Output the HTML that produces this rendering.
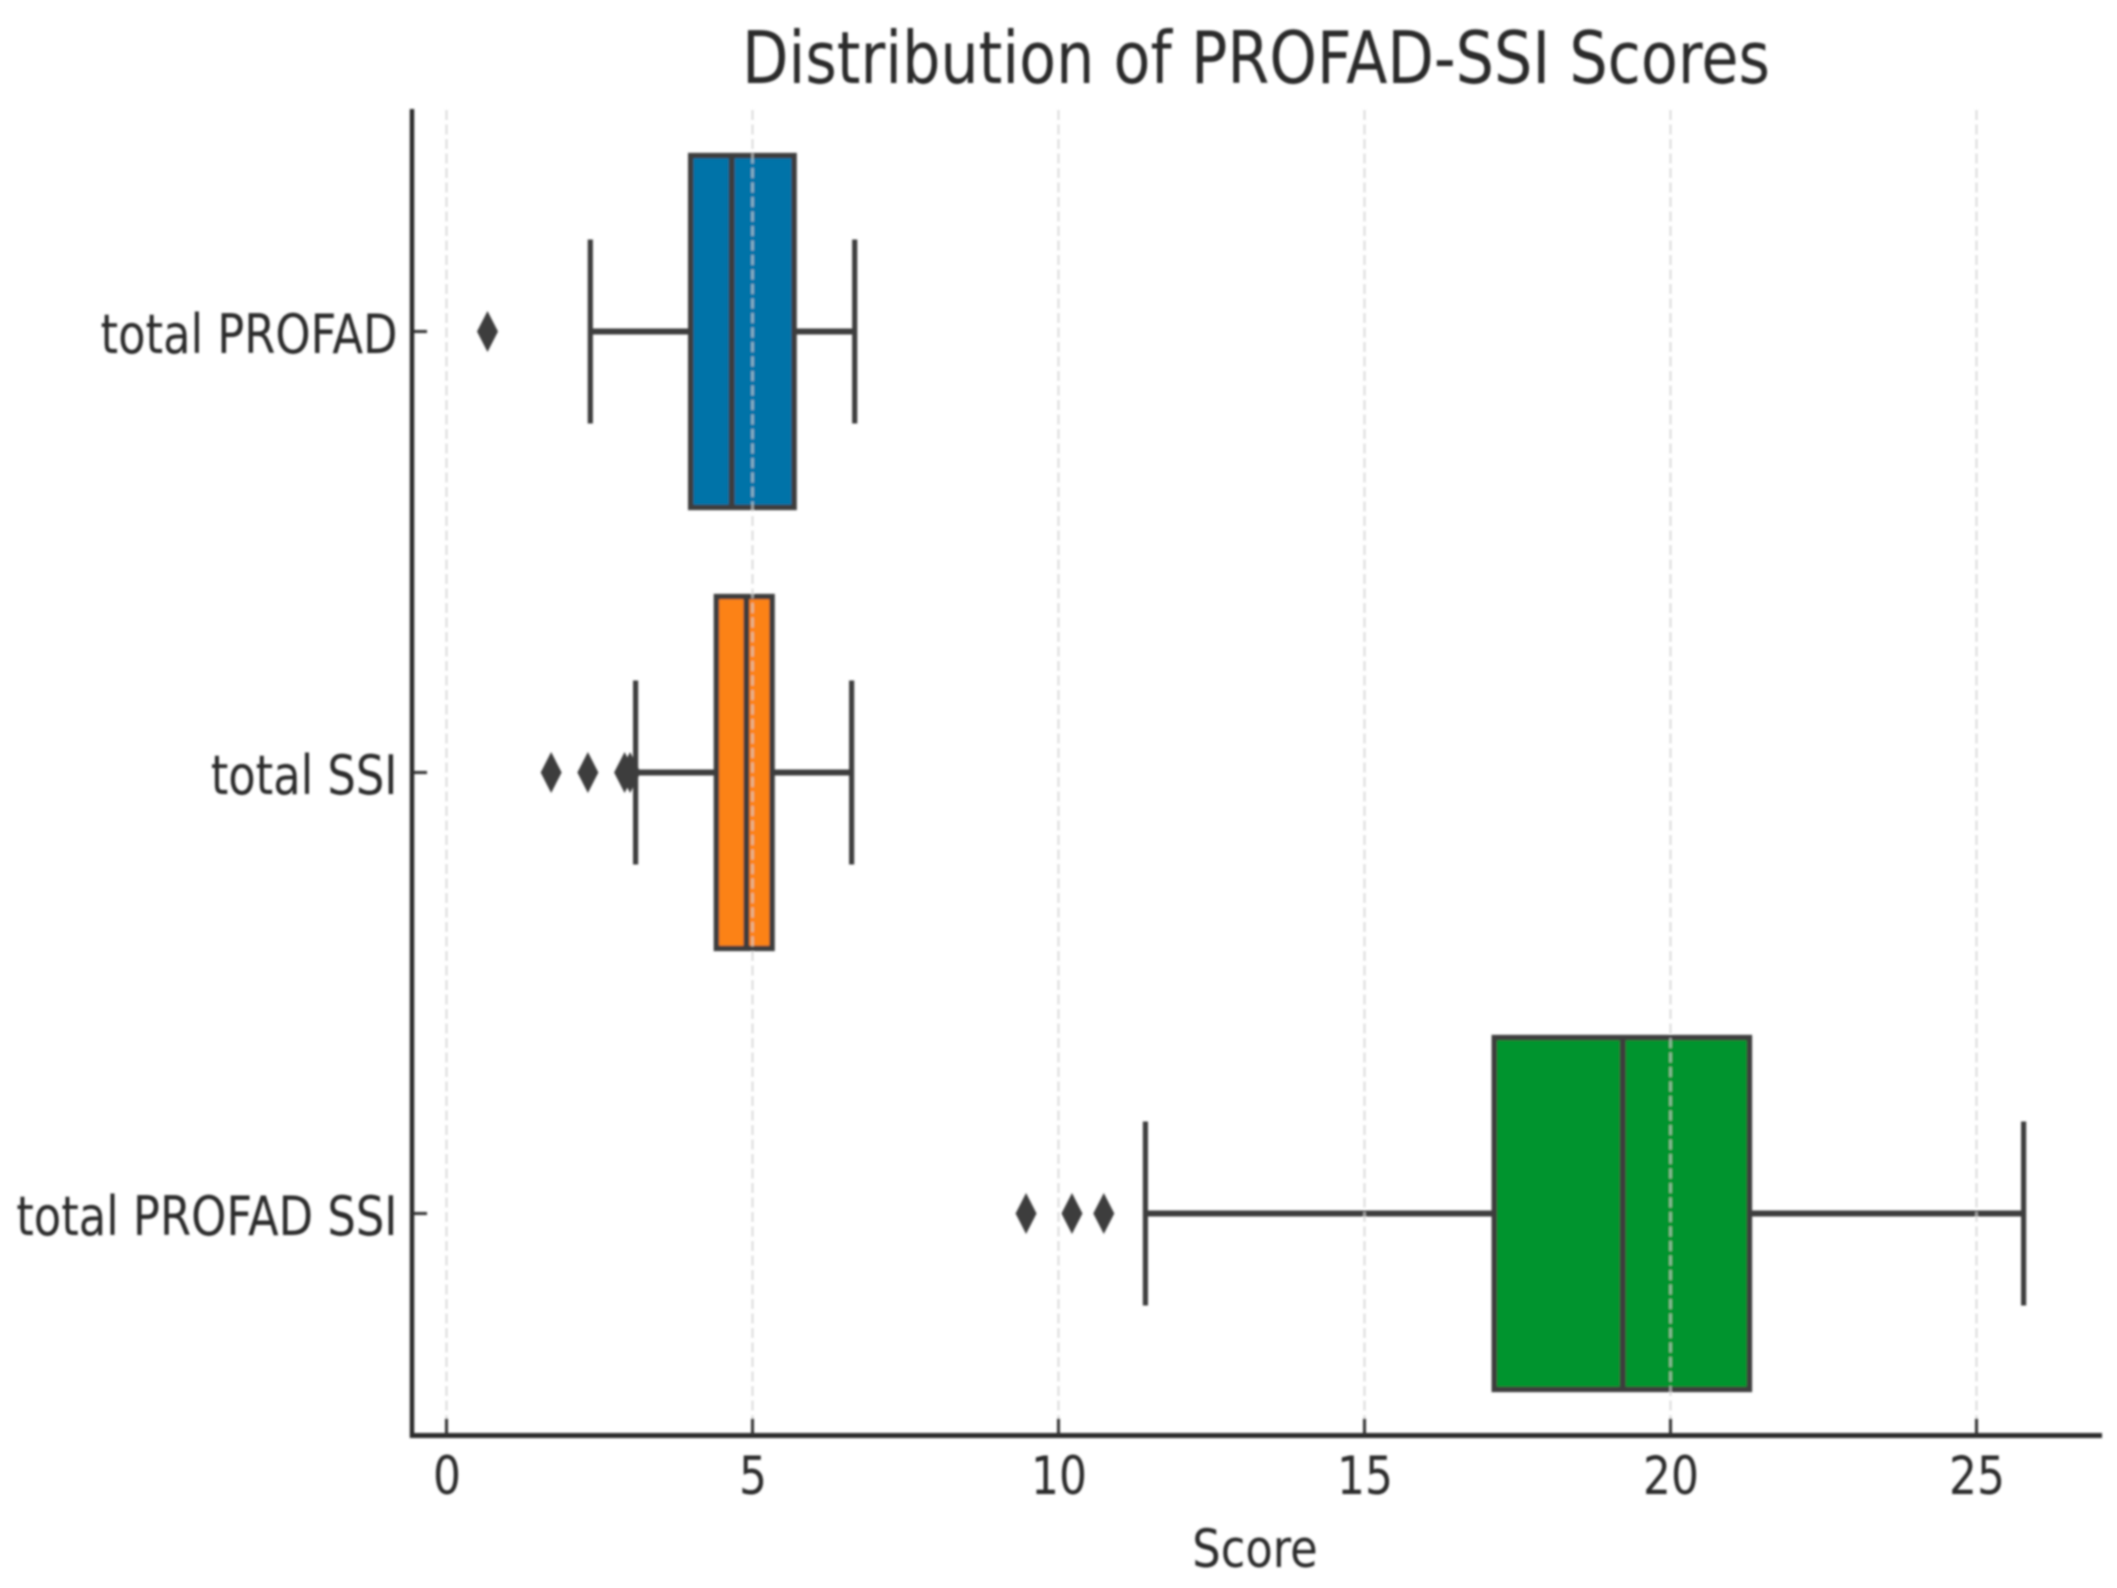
<!DOCTYPE html>
<html lang="en">
<head>
<meta charset="utf-8">
<title>Distribution of PROFAD-SSI Scores</title>
<style>
html,body{margin:0;padding:0;background:#fff;width:2117px;height:1588px;overflow:hidden}
svg{display:block}
text{font-family:"DejaVu Sans","Liberation Sans",sans-serif;fill:#2b2b2b}
</style>
</head>
<body>
<svg id="chart" width="2117" height="1588" viewBox="0 0 2117 1588" xmlns="http://www.w3.org/2000/svg">
  <defs>
    <filter id="soft" x="-2%" y="-2%" width="104%" height="104%"><feGaussianBlur stdDeviation="1"/></filter>
  </defs>
  <g id="root" filter="url(#soft)"></g>
</svg>
<script>
const categories = ['total PROFAD', 'total SSI', 'total PROFAD SSI'];
const boxColors = ['#0173a8', '#fc8217', '#02942f'];
const whiskerLow = [2.35, 3.09, 11.42];
const q1 = [3.99, 4.41, 17.12];
const medians = [4.66, 4.90, 19.22];
const q3 = [5.68, 5.32, 21.29];
const whiskerHigh = [6.67, 6.62, 25.77];
const outliers = [[0.67], [1.71, 2.31, 2.91, 3.00], [9.47, 10.22, 10.74]];
const xTicks = [0, 5, 10, 15, 20, 25];
const titleText = 'Distribution of PROFAD-SSI Scores';
const xAxisLabel = 'Score';

const NS = 'http://www.w3.org/2000/svg';
const root = document.getElementById('root');
const plot = {left: 412, right: 2102, top: 110, bottom: 1435.5, x0: 446.5, unit: 61.2, catTop: 111, band: 441};
const ink = '#3d3d3d';

function xScale(v) { return plot.x0 + v * plot.unit; }
function yScale(i) { return plot.catTop + plot.band * (i + 0.5); }

function make(tag, attrs, parent) {
  const el = document.createElementNS(NS, tag);
  for (const k in attrs) el.setAttribute(k, attrs[k]);
  (parent || root).appendChild(el);
  return el;
}
function label(str, x, y, size, anchor, sx) {
  const el = make('text', {
    transform: 'translate(' + x + ',' + y + ') scale(' + sx + ',1)',
    'font-size': size,
    'text-anchor': anchor
  });
  el.textContent = str;
  return el;
}

/* boxes */
categories.forEach(function (cat, i) {
  const y = yScale(i);
  const h = plot.band * 0.798;
  const capH = plot.band * 0.417;
  const g = make('g', {});
  
  

  const wl = make('line', {x1: xScale(whiskerLow[i]), x2: xScale(q1[i]), y1: y, y2: y, stroke: ink, 'stroke-width': 6}, g);
  
  

  const wh = make('line', {x1: xScale(q3[i]), x2: xScale(whiskerHigh[i]), y1: y, y2: y, stroke: ink, 'stroke-width': 6}, g);
  
  

  const cl = make('line', {x1: xScale(whiskerLow[i]), x2: xScale(whiskerLow[i]), y1: y - capH / 2, y2: y + capH / 2, stroke: ink, 'stroke-width': 5.2}, g);
  
  

  const ch = make('line', {x1: xScale(whiskerHigh[i]), x2: xScale(whiskerHigh[i]), y1: y - capH / 2, y2: y + capH / 2, stroke: ink, 'stroke-width': 5.2}, g);
  
  

  const r = make('rect', {x: xScale(q1[i]), y: y - h / 2, width: xScale(q3[i]) - xScale(q1[i]), height: h, fill: boxColors[i], stroke: ink, 'stroke-width': 5.4}, g);
  
  

  const m = make('line', {x1: xScale(medians[i]), x2: xScale(medians[i]), y1: y - h / 2, y2: y + h / 2, stroke: ink, 'stroke-width': 5.8}, g);
  
  

  outliers[i].forEach(function (v) {
    const px = xScale(v);
    const d = make('polygon', {points: (px - 10.5) + ',' + y + ' ' + px + ',' + (y - 20.5) + ' ' + (px + 10.5) + ',' + y + ' ' + px + ',' + (y + 20.5), fill: ink}, g);
    
    
  });
});

/* gridlines (drawn over the boxes, as in the reference) */
xTicks.forEach(function (t) {
  const gl = make('line', {x1: xScale(t), x2: xScale(t), y1: plot.top, y2: plot.bottom - 15, stroke: '#d2d2d2', 'stroke-opacity': 0.7, 'stroke-width': 2.4, 'stroke-dasharray': '10 4.5'});
  
  
});

/* spines */
const spineLeft = make('line', {x1: plot.left, x2: plot.left, y1: plot.top - 1, y2: plot.bottom + 2.5, stroke: '#2b2b2b', 'stroke-width': 4.5});



const spineBottom = make('line', {x1: plot.left - 2, x2: plot.right, y1: plot.bottom, y2: plot.bottom, stroke: '#2b2b2b', 'stroke-width': 5});



/* x ticks */
xTicks.forEach(function (t) {
  const tk = make('line', {x1: xScale(t), x2: xScale(t), y1: plot.bottom - 17, y2: plot.bottom, stroke: '#333', 'stroke-width': 3});
  
  
  const tl = label(String(t), xScale(t) + 0.5, 1494, 53, 'middle', 0.83);
  
  
});

/* y ticks */
categories.forEach(function (cat, i) {
  const tk = make('line', {x1: plot.left, x2: plot.left + 15, y1: yScale(i), y2: yScale(i), stroke: '#333', 'stroke-width': 3});
  
  
  const tl = label(cat, 397.5, yScale(i) + 21.5, 54, 'end', 0.83);
  
  
});

const title = label(titleText, 1256, 83, 72, 'middle', 0.839);



const xTitle = label(xAxisLabel, 1255, 1567, 53, 'middle', 0.845);


</script>
</body>
</html>
